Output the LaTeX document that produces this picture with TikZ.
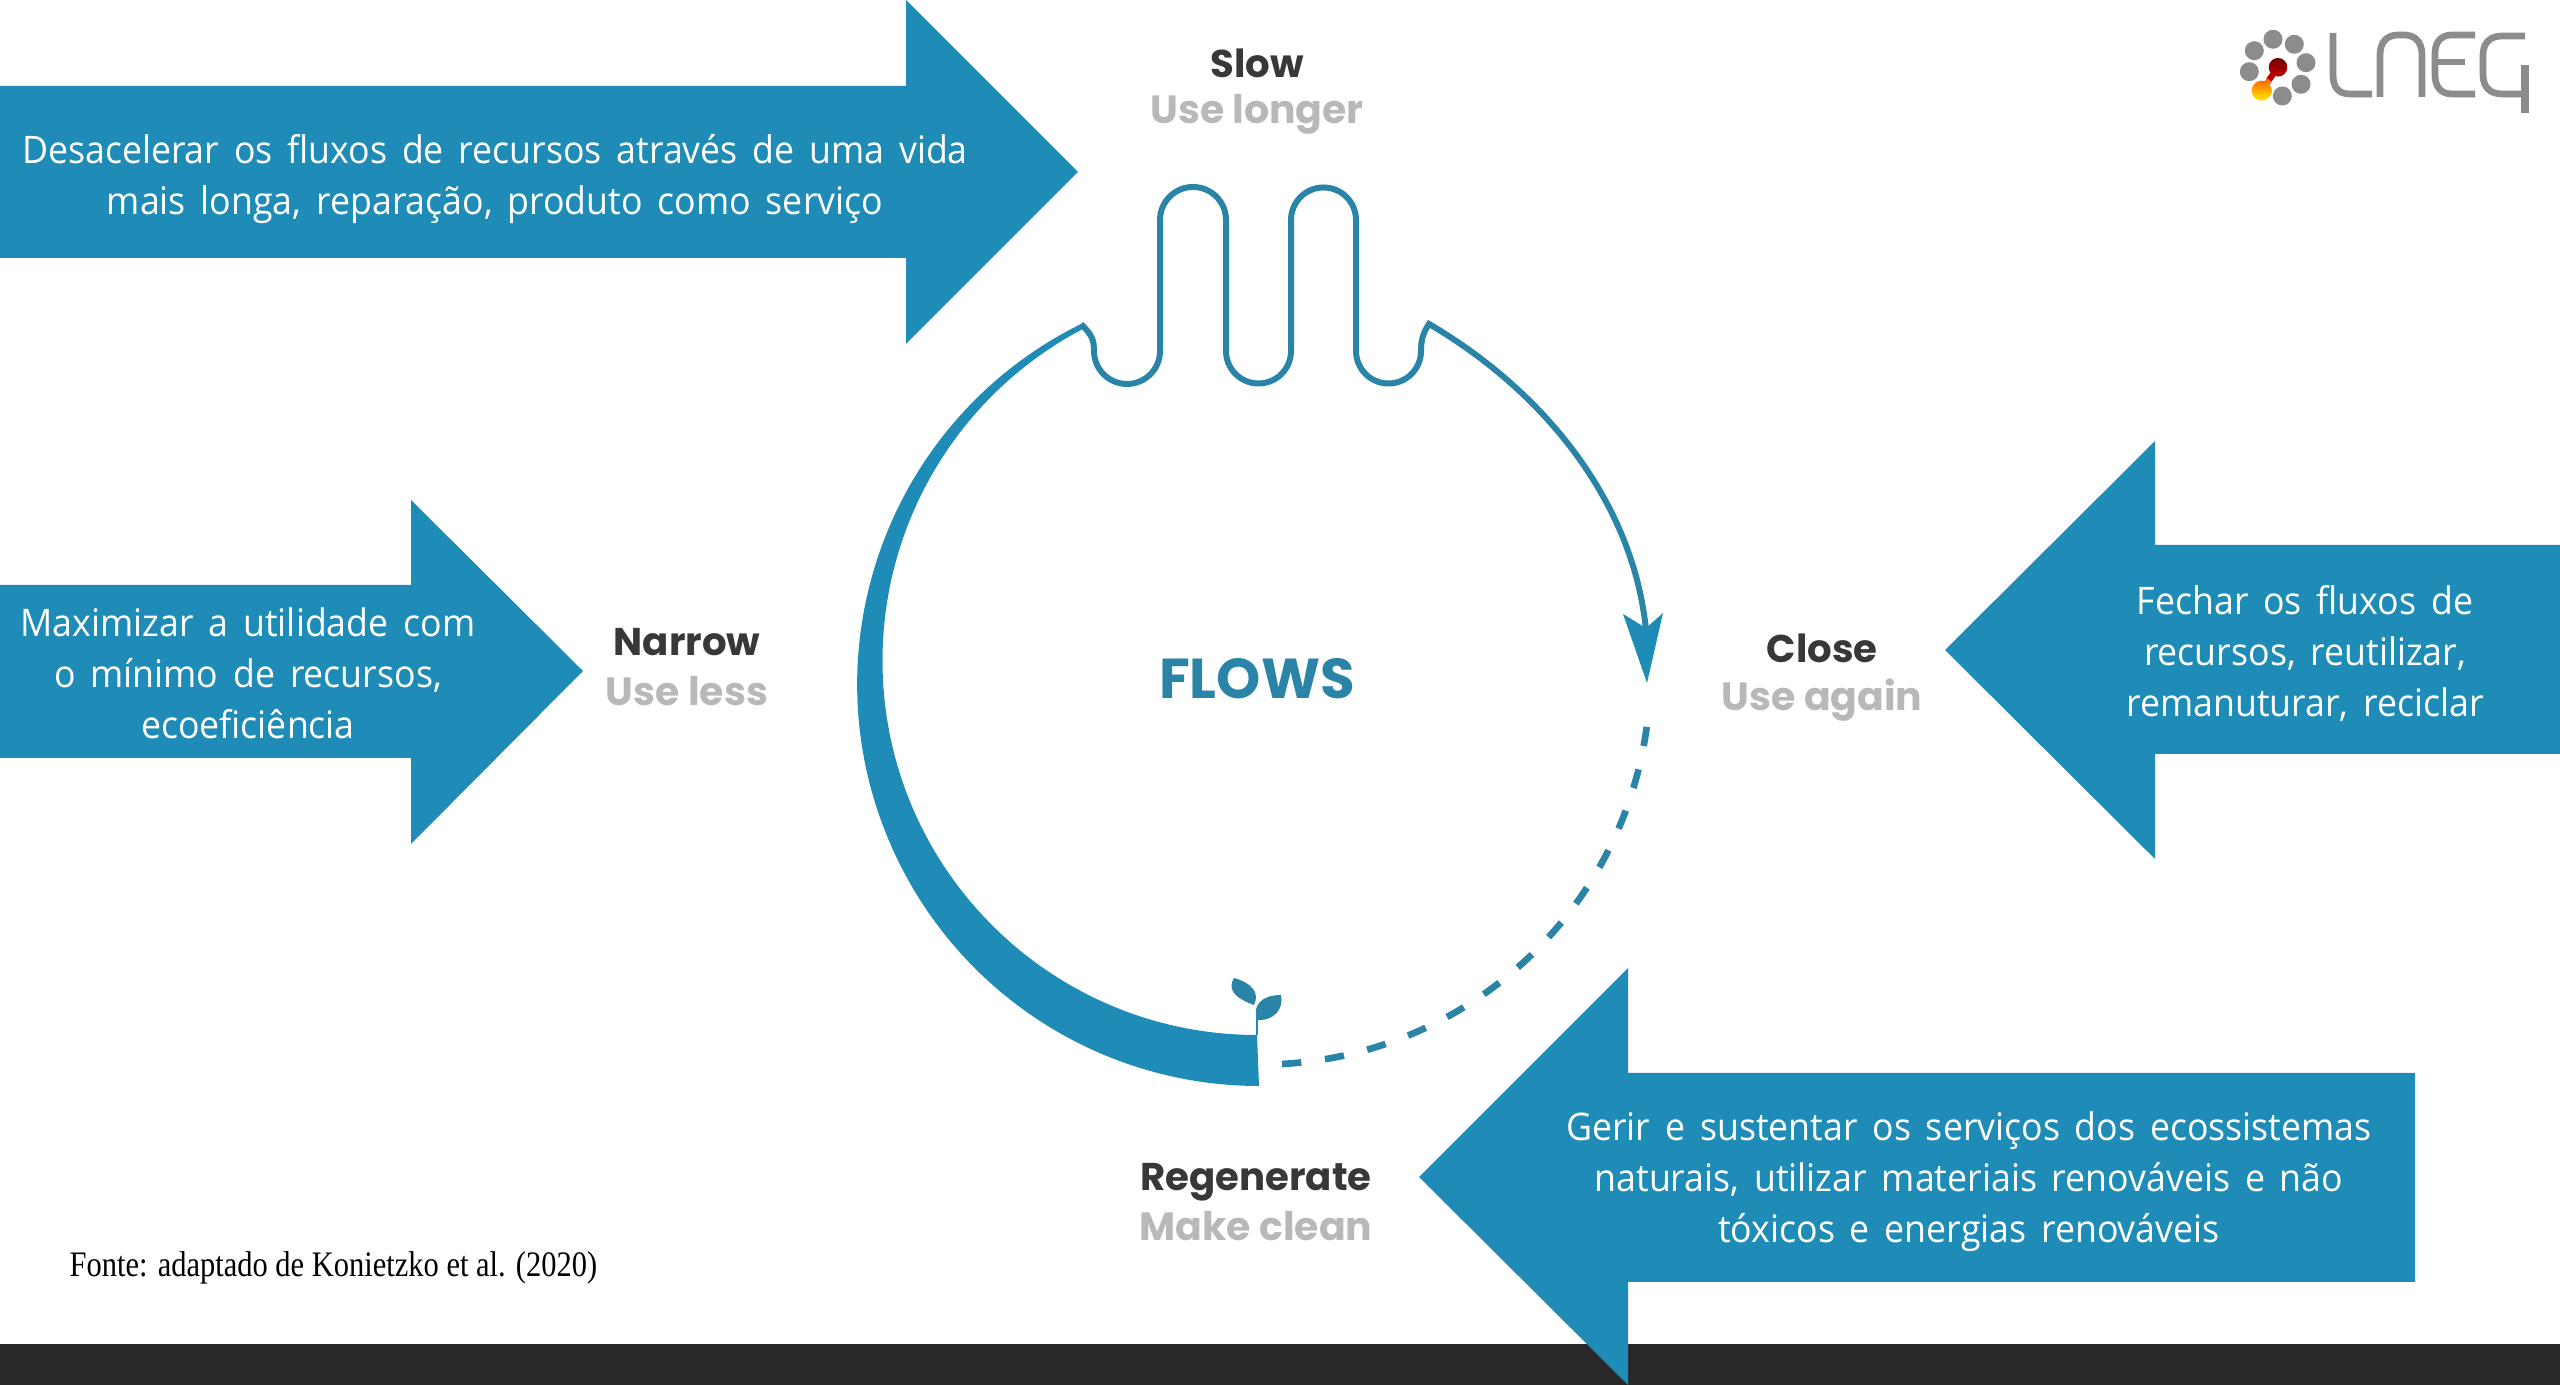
\documentclass[tikz,border=0pt]{standalone}
\usepackage{fontspec}
\setmainfont{Open Sans}[WordSpace=1.6,FakeStretch=0.94]
\newfontfamily\labelfont{Poppins}
\newfontfamily\sourcefont{Liberation Serif}[FakeStretch=0.85]
\definecolor{arrowblue}{HTML}{1F8CB8}
\definecolor{flowblue}{HTML}{2A84A8}
\definecolor{logogrey}{HTML}{8C8C8C}
\tikzset{
  bluearrow/.style={fill=arrowblue},
  arrowtext/.style={text=white,align=center,font=\fontsize{10.8}{14.5}\selectfont},
  rtitle/.style={text=black!78,font=\labelfont\bfseries\fontsize{11}{13}\selectfont},
  raction/.style={text=black!28,font=\labelfont\bfseries\fontsize{11.2}{13}\selectfont},
  flowline/.style={draw=flowblue,line width=1.7pt},
  logostroke/.style={draw=logogrey,line width=1.9pt}
}
\begin{document}
\begin{tikzpicture}[x=0.01cm,y=0.01cm]
  \useasboundingbox (0,0) rectangle (2560,1385);
  \fill[black!84] (0,0) rectangle (2560,41);
  \fill[bluearrow] (0,1127) -- (906,1127) -- (906,1041) -- (1078,1213) -- (906,1385) -- (906,1299) -- (0,1299) -- cycle;
  \fill[bluearrow] (0,627) -- (411,627) -- (411,541) -- (583,714) -- (411,885) -- (411,800) -- (0,800) -- cycle;
  \fill[bluearrow] (2560,631) -- (2155,631) -- (2155,526) -- (1945,735) -- (2155,944) -- (2155,840) -- (2560,840) -- cycle;
  \fill[bluearrow] (2415,103) -- (1628,103) -- (1628,0) -- (1419,208) -- (1628,417) -- (1628,312) -- (2415,312) -- cycle;
  \node[arrowtext] (slowtext) at (495,1206) {Desacelerar os fluxos de recursos através de uma vida\\mais longa, reparação, produto como serviço};
  \node[arrowtext] (narrowtext) at (248,712) {Maximizar a utilidade com\\o mínimo de recursos,\\ecoeficiência};
  \node[arrowtext] (closetext) at (2305,732) {Fechar os fluxos de\\recursos, reutilizar,\\remanuturar, reciclar};
  \node[arrowtext] (regentext) at (1969,203) {Gerir e sustentar os serviços dos ecossistemas\\naturais, utilizar materiais renováveis e não\\tóxicos e energias renováveis};
  \node[rtitle] (slow) at (1257,1322) {Slow};
  \node[raction] (slowuse) at (1257,1271) {Use longer};
  \node[rtitle] (narrow) at (687,743) {Narrow};
  \node[raction] (narrowuse) at (687,694) {Use less};
  \node[rtitle] (close) at (1822,737) {Close};
  \node[raction] (closeuse) at (1822,685) {Use again};
  \node[rtitle] (regen) at (1256,203) {Regenerate};
  \node[raction] (regenuse) at (1256,159) {Make clean};
  \node[text=flowblue,font=\labelfont\bfseries\fontsize{16}{18}\selectfont] (flows) at (1257,706) {FLOWS};
  \node[anchor=west,inner sep=0pt,font=\sourcefont\fontsize{10.2}{12}\selectfont] (source) at (69,117) {Fonte: adaptado de Konietzko et al. (2020)};
  \fill[arrowblue] (1081,1061) arc[start angle=116.3,end angle=270,radius=401.8] -- (1257,350) arc[start angle=270,end angle=117.6,radius=374.5] -- cycle;
  \draw[flowline] (1081,1061) .. controls (1092,1050) and (1094,1045) .. (1094,1034)
    arc[start angle=180,end angle=360,radius=33] -- (1160,1165)
    arc[start angle=180,end angle=0,radius=33] -- (1226,1034)
    arc[start angle=180,end angle=360,radius=32.5] -- (1291,1165)
    arc[start angle=180,end angle=0,radius=32.5] -- (1356,1034)
    arc[start angle=180,end angle=360,radius=32.5] .. controls (1421,1045) and (1423,1052) .. (1429,1061)
    .. controls (1542,995) and (1633,885) .. (1646,755);
  \fill[arrowblue] (1647,702) -- (1623,771) -- (1646,757) -- (1663,772) -- cycle;
  \draw[flowline,line width=1.9pt,dash pattern=on 5.5pt off 6.8pt] (1282,321) arc[start angle=273.2,end angle=352.5,radius=390];
  \draw[arrowblue,line width=0.5pt] (1257,350) -- (1257,370);
  \fill[flowblue] (1254,380) .. controls (1232,388) and (1228,397) .. (1234,407) .. controls (1252,402) and (1260,392) .. (1254,380) -- cycle;
  \fill[flowblue] (1257,365) .. controls (1252,380) and (1262,390) .. (1281,390) .. controls (1284,376) and (1274,364) .. (1257,365) -- cycle;
  \foreach \x/\y in {2273/1345.7,2294.3/1340.7,2306/1322.3,2301/1300.7,2282.3/1289,2249.3/1313.3,2254.3/1334.3}
    \fill[logogrey] (\x,\y) circle(9.5);
  \draw[red!75!black,line width=1.7pt] (2278,1317.7) -- (2269,1305);
  \draw[orange!85!red,line width=1.7pt] (2269,1305) -- (2261.7,1294.3);
  \shade[top color=red!45!black,bottom color=red!75!black] (2278,1317.7) circle(9.3);
  \shade[top color=orange!85!red,bottom color=yellow!85!orange] (2261.7,1294.3) circle(10);
  \draw[logostroke] (2333,1352) -- (2333,1310) .. controls (2333,1298) and (2338,1291) .. (2350,1291) -- (2372,1291);
  \draw[logostroke] (2380,1288) -- (2380,1330) .. controls (2380,1343) and (2387,1350) .. (2398,1350) -- (2404,1350) .. controls (2415,1350) and (2422,1343) .. (2422,1330) -- (2422,1288);
  \draw[logostroke] (2475,1350) -- (2452,1350) .. controls (2441,1350) and (2435,1343) .. (2435,1332) -- (2435,1310) .. controls (2435,1298) and (2441,1291) .. (2452,1291) -- (2475,1291);
  \draw[logostroke] (2436,1323) -- (2465,1323);
  \draw[logostroke] (2525,1349) -- (2502,1349) .. controls (2490,1349) and (2483,1342) .. (2483,1330) -- (2483,1310) .. controls (2483,1298) and (2490,1291) .. (2502,1291) -- (2525,1291);
  \draw[logostroke,line width=2.2pt] (2525,1320) -- (2525,1272);
\end{tikzpicture}
\end{document}
